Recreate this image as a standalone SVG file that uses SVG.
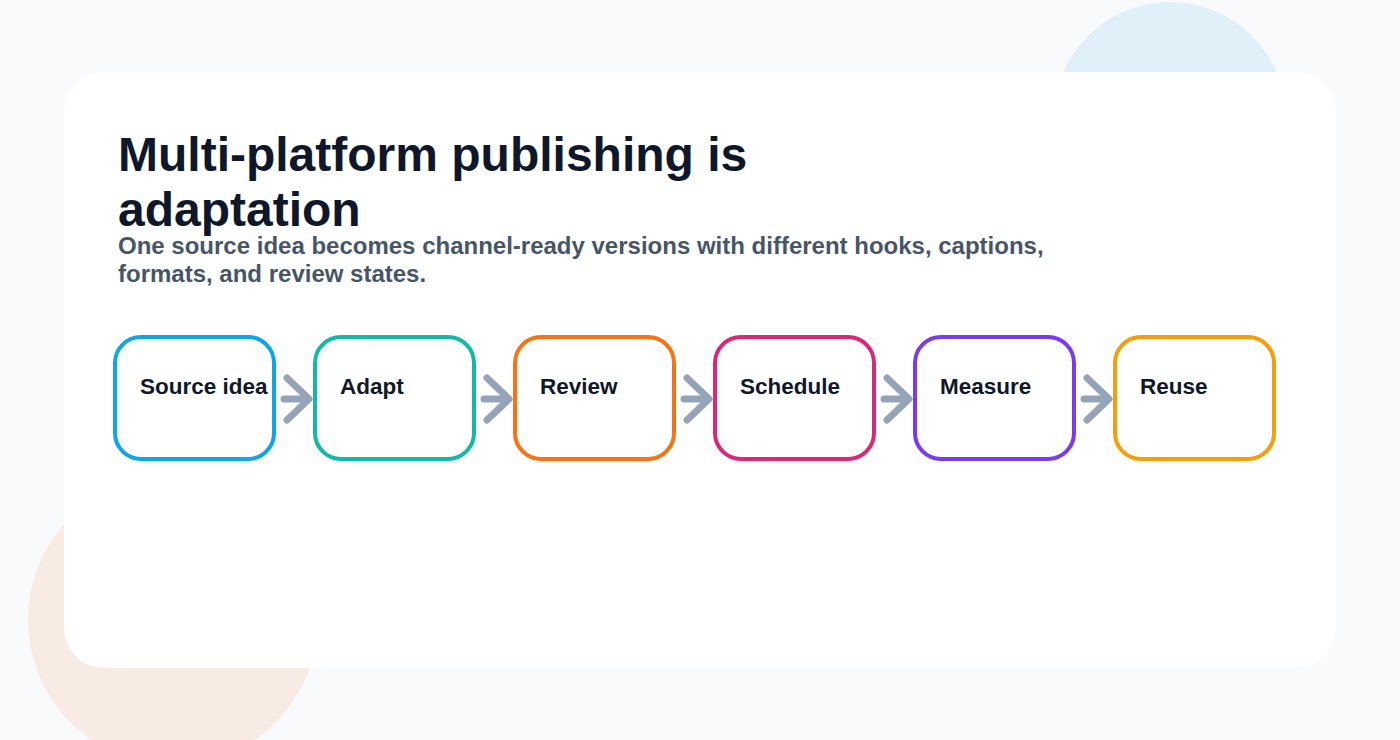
<svg xmlns="http://www.w3.org/2000/svg" width="1400" height="740" viewBox="0 0 1400 740">
  <style>
    .title { font-family: "Liberation Sans", Arial, sans-serif; font-weight: 700; font-size: 48px; fill: #0f172a; }
    .sub { font-family: "Liberation Sans", Arial, sans-serif; font-weight: 700; font-size: 24px; fill: #475569; }
    .box { fill: #ffffff; stroke-width: 4; }
    .label { font-family: "Liberation Sans", Arial, sans-serif; font-weight: 700; font-size: 22.5px; fill: #0f172a; }
    .conn { fill: none; stroke: #94a3b8; stroke-width: 7; stroke-linecap: round; stroke-linejoin: round; }
  </style>
  <rect x="0" y="0" width="1400" height="740" fill="#f8fafc"/>
  <circle cx="1170" cy="118" r="116" fill="#e0f0f8"/>
  <circle cx="173" cy="620" r="145" fill="#f8ebe3"/>
  <rect x="64" y="72" width="1272" height="596" rx="40" ry="40" fill="#ffffff"/>

  <text class="title" x="118" y="171">Multi-platform publishing is</text>
  <text class="title" x="118" y="226">adaptation</text>
  <text class="sub" x="118" y="254">One source idea becomes channel-ready versions with different hooks, captions,</text>
  <text class="sub" x="118" y="282">formats, and review states.</text>

  <g id="connectors">
    <path class="conn" d="M284 399 H308 M287 378 L309 399 L287 420"/>
    <path class="conn" d="M484 399 H508 M487 378 L509 399 L487 420"/>
    <path class="conn" d="M684 399 H708 M687 378 L709 399 L687 420"/>
    <path class="conn" d="M884 399 H908 M887 378 L909 399 L887 420"/>
    <path class="conn" d="M1084 399 H1108 M1087 378 L1109 399 L1087 420"/>
  </g>

  <g id="node-source">
    <rect class="box" x="115" y="337" width="159" height="122" rx="26" stroke="#0ea5e9"/>
    <text class="label" x="140" y="394">Source idea</text>
  </g>
  <g id="node-adapt">
    <rect class="box" x="315" y="337" width="159" height="122" rx="26" stroke="#14b8a6"/>
    <text class="label" x="340" y="394">Adapt</text>
  </g>
  <g id="node-review">
    <rect class="box" x="515" y="337" width="159" height="122" rx="26" stroke="#f97316"/>
    <text class="label" x="540" y="394">Review</text>
  </g>
  <g id="node-schedule">
    <rect class="box" x="715" y="337" width="159" height="122" rx="26" stroke="#db2777"/>
    <text class="label" x="740" y="394">Schedule</text>
  </g>
  <g id="node-measure">
    <rect class="box" x="915" y="337" width="159" height="122" rx="26" stroke="#7c3aed"/>
    <text class="label" x="940" y="394">Measure</text>
  </g>
  <g id="node-reuse">
    <rect class="box" x="1115" y="337" width="159" height="122" rx="26" stroke="#f59e0b"/>
    <text class="label" x="1140" y="394">Reuse</text>
  </g>
</svg>
